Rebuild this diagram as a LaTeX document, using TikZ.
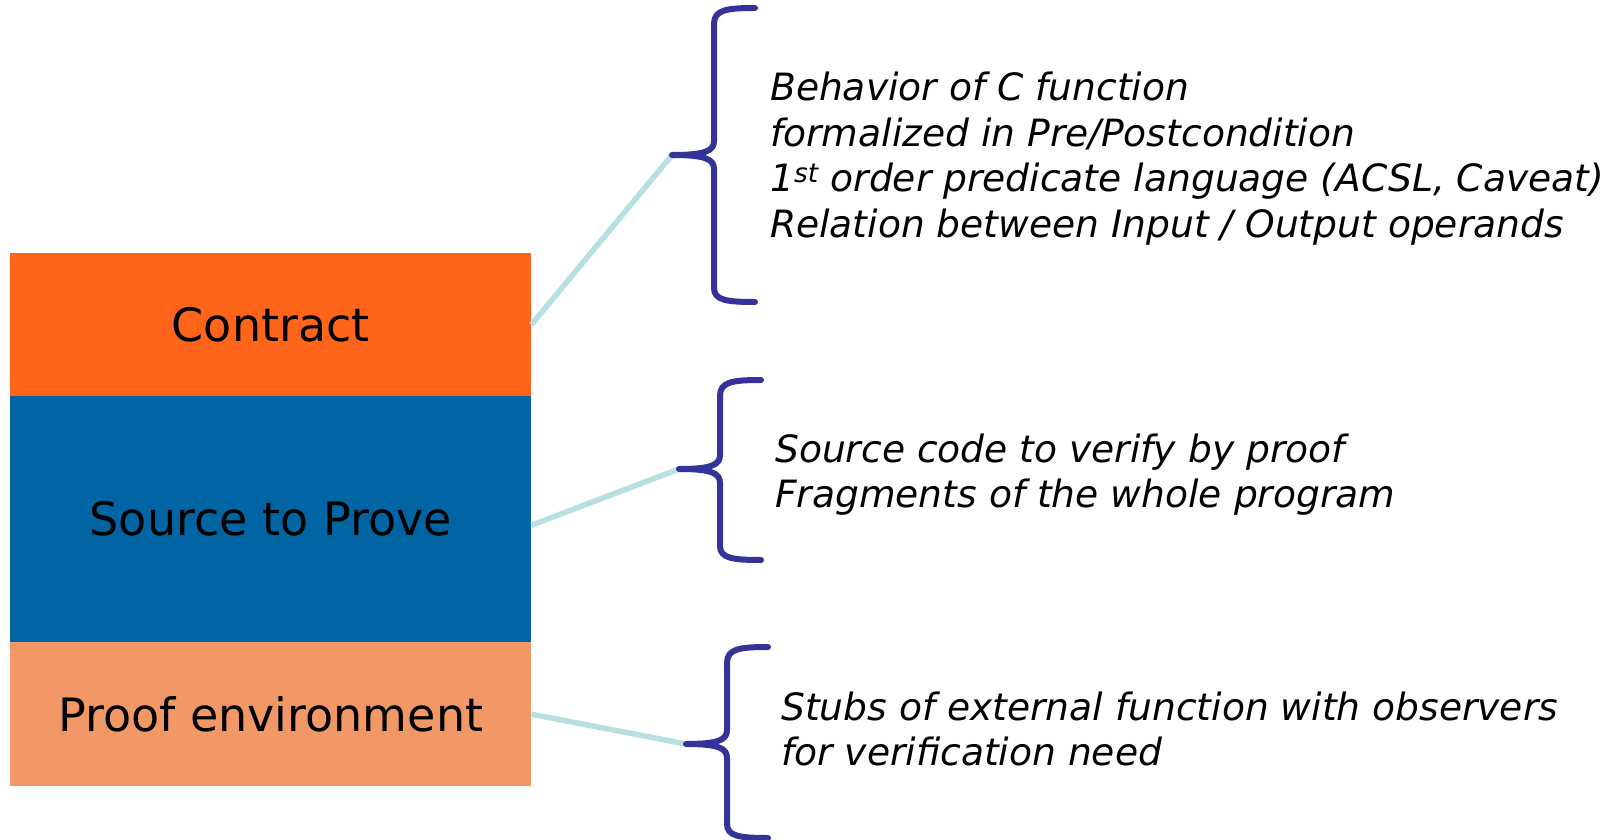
\documentclass[tikz,border=0pt]{standalone}
\usepackage{fontspec}
\setmainfont{DejaVu Sans}
\begin{document}
\begin{tikzpicture}[x=1pt,y=-1pt,
  layer/.style={draw=none, minimum width=521pt, inner sep=0pt, anchor=north west,
    font=\fontsize{46}{55}\selectfont, text=black},
  desc/.style={anchor=base west, inner sep=0pt, font=\fontsize{37.6}{45}\selectfont\itshape},
  brace/.style={draw=braceblue, line width=6pt, line cap=round, line join=round},
  link/.style={draw=linkcyan, line width=5.5pt}]
\definecolor{cOrange}{HTML}{FF651A}
\definecolor{cBlue}{HTML}{0065A2}
\definecolor{cSalmon}{HTML}{F29866}
\definecolor{braceblue}{HTML}{333399}
\definecolor{linkcyan}{HTML}{B8E0E3}
\useasboundingbox (0,0) rectangle (1614,840);
\fill[white] (0,0) rectangle (1614,840);

% layers
\node[layer, fill=cOrange, minimum height=143pt] (contract) at (10,253) {\raisebox{-2.5pt}{Contract}};
\node[layer, fill=cBlue, minimum height=246pt] (source) at (10,396) {\raisebox{-2.5pt}{Source to Prove}};
\node[layer, fill=cSalmon, minimum height=144pt] (proof) at (10,642) {\raisebox{-1.5pt}{Proof environment}};

% brace tips
\coordinate (t1) at (672,155);
\coordinate (t2) at (679,469);
\coordinate (t3) at (686,744);

% connectors
\draw[link] (contract.east) -- (t1);
\draw[link] (source.east) ++(0,6) -- (t2);
\draw[link] (proof.east) -- (t3);

% braces
\draw[brace] (755,8) .. controls (726,8) and (714,10) .. (714,24) -- (714,141)
  .. controls (714,151) and (705,155) .. (t1)
  .. controls (705,155) and (714,159) .. (714,169) -- (714,288)
  .. controls (714,300) and (726,302) .. (755,302);
\draw[brace] (761,380) .. controls (732,380) and (720,382) .. (720,396) -- (720,455)
  .. controls (720,465) and (711,469) .. (t2)
  .. controls (711,469) and (720,473) .. (720,483) -- (720,546)
  .. controls (720,558) and (732,560) .. (761,560);
\draw[brace] (768,647) .. controls (739,647) and (727,649) .. (727,663) -- (727,730)
  .. controls (727,740) and (718,744) .. (t3)
  .. controls (718,744) and (727,748) .. (727,758) -- (727,824)
  .. controls (727,836) and (739,838) .. (768,838);

% descriptions
\node[desc] (d1a) at (770,101) {Behavior of C function};
\node[desc] (d1b) at (770,146.3) {formalized in Pre/Postcondition};
\node[desc] (d1c) at (770,191.6) {1\textsuperscript{st} order predicate language (ACSL, Caveat)};
\node[desc] (d1d) at (770,237) {Relation between Input / Output operands};

\node[desc] (d2a) at (775,462) {Source code to verify by proof};
\node[desc] (d2b) at (775,507.5) {Fragments of the whole program};

\node[desc] (d3a) at (781,720.5) {Stubs of external function with observers};
\node[desc] (d3b) at (781,765) {for verification need};
\end{tikzpicture}
\end{document}
